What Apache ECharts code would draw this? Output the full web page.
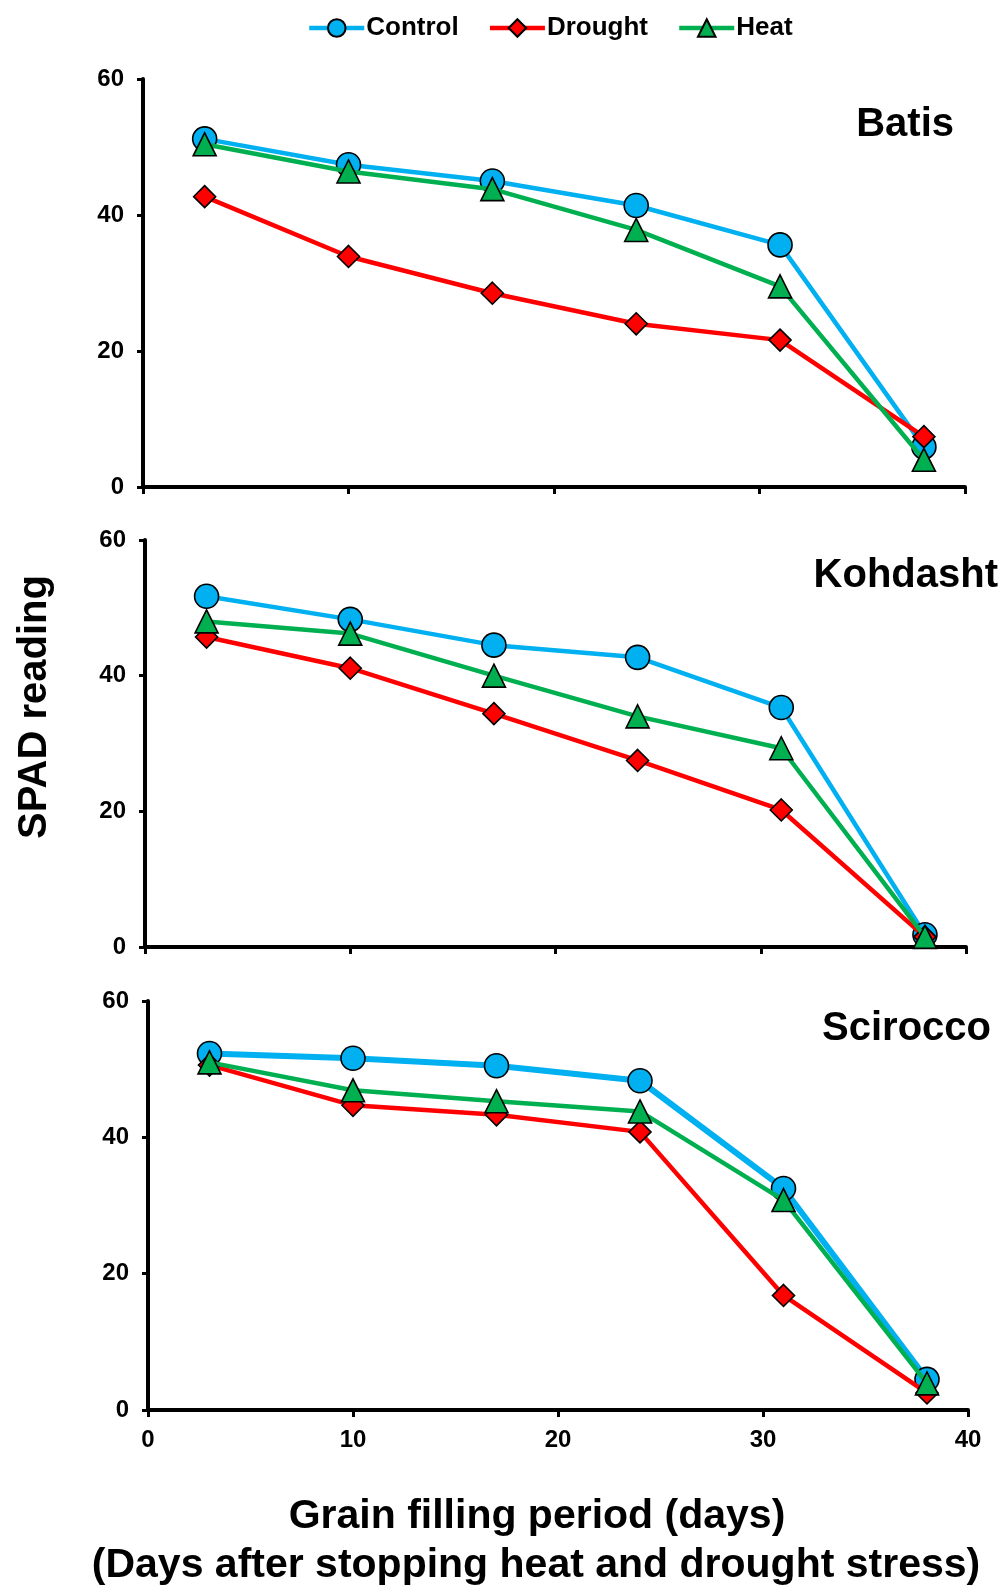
<!DOCTYPE html>
<html>
<head>
<meta charset="utf-8">
<script src="https://cdn.jsdelivr.net/npm/echarts@6/dist/echarts.min.js"></script>
<style>
  html, body { margin: 0; padding: 0; background: #fff; }
  #chart { width: 1005px; height: 1585px; }
</style>
</head>
<body>
<div id="chart"></div>
<script>
const days = [3, 10, 17, 24, 31, 38]
const xTicks = [0, 10, 20, 30, 40]
const yTicks = [0, 20, 40, 60]
const treatments = ['Control', 'Drought', 'Heat']
const cultivars = ['Batis', 'Kohdasht', 'Scirocco']

const batisControl = [51.2, 47.4, 45.0, 41.4, 35.6, 5.9]
const batisDrought = [42.7, 33.9, 28.5, 24.0, 21.6, 7.4]
const batisHeat = [50.4, 46.4, 43.8, 37.8, 29.5, 4.0]

const kohdashtControl = [51.7, 48.3, 44.5, 42.7, 35.3, 1.8]
const kohdashtDrought = [45.7, 41.1, 34.4, 27.5, 20.2, 1.5]
const kohdashtHeat = [48.0, 46.2, 40.0, 34.0, 29.3, 1.5]

const sciroccoControl = [52.3, 51.6, 50.5, 48.3, 32.5, 4.5]
const sciroccoDrought = [50.6, 44.7, 43.3, 40.8, 16.8, 2.5]
const sciroccoHeat = [51.0, 46.9, 45.3, 43.8, 30.8, 3.9]

const panelValues = [
  [batisControl, batisDrought, batisHeat],
  [kohdashtControl, kohdashtDrought, kohdashtHeat],
  [sciroccoControl, sciroccoDrought, sciroccoHeat]
]

// panel boxes in px
const grids = [
  { left: 143, top: 79, width: 822, height: 408 },
  { left: 145, top: 540, width: 821, height: 407 },
  { left: 148, top: 1001, width: 820, height: 409 }
]
const labelPos = [
  { x: 954, y: 125 },
  { x: 998, y: 576 },
  { x: 991, y: 1029 }
]

const seriesStyle = {
  Control: { color: '#00B0F0', symbol: 'circle', size: 24 },
  Drought: { color: '#FF0000', symbol: 'diamond', size: 22 },
  Heat: { color: '#00B050', symbol: 'triangle', size: 23 }
}

const tickFont = { color: '#000', fontSize: 24, fontWeight: 'bold', fontFamily: 'Liberation Sans, Arial, sans-serif' }

const xAxes = grids.map((g, i) => ({
  type: 'value',
  gridIndex: i,
  min: xTicks[0],
  max: xTicks[xTicks.length - 1],
  interval: 10,
  axisLine: { show: true, onZero: false, lineStyle: { color: '#000', width: 4 } },
  axisTick: { show: true, length: 7, lineStyle: { color: '#000', width: 3 } },
  axisLabel: { show: i === 2, margin: 18, ...tickFont },
  splitLine: { show: false }
}))

const yAxes = grids.map((g, i) => ({
  type: 'value',
  gridIndex: i,
  min: yTicks[0],
  max: yTicks[yTicks.length - 1],
  interval: 20,
  axisLine: { show: true, lineStyle: { color: '#000', width: 4 } },
  axisTick: { show: true, length: 6, lineStyle: { color: '#000', width: 3 } },
  axisLabel: { margin: 19, ...tickFont },
  splitLine: { show: false }
}))

const series = []
panelValues.forEach((vals, p) => {
  treatments.forEach((name, t) => {
    const st = seriesStyle[name]
    series.push({
      name,
      type: 'line',
      xAxisIndex: p,
      yAxisIndex: p,
      data: days.map((d, k) => [d, vals[t][k]]),
      symbol: st.symbol,
      symbolSize: st.size,
      lineStyle: { color: st.color, width: (name === 'Control' && p === 2) ? 6 : 4.5 },
      itemStyle: { color: st.color, borderColor: '#000', borderWidth: 1.6 },
      emphasis: { disabled: true },
      z: 2 + t
    })
  })
})

const titleFont = 'bold 41px "Liberation Sans", Arial, sans-serif'

const chart = echarts.init(document.getElementById('chart'), null, { renderer: 'canvas' })
chart.setOption({
  animation: false,
  backgroundColor: '#fff',
  legend: {
    data: treatments,
    left: 302,
    top: 10,
    itemWidth: 55,
    itemHeight: 22,
    itemGap: 29,
    lineStyle: { width: 4.5 },
    textStyle: { color: '#000', fontSize: 26, fontWeight: 'bold', fontFamily: 'Liberation Sans, Arial, sans-serif', padding: [0, 0, 0, -3] }
  },
  grid: grids,
  xAxis: xAxes,
  yAxis: yAxes,
  series,
  graphic: [
    ...cultivars.map((c, i) => ({
      type: 'text',
      x: labelPos[i].x,
      y: labelPos[i].y,
      style: { text: c, font: 'bold 40px "Liberation Sans", Arial, sans-serif', fill: '#000', align: 'right', verticalAlign: 'middle' }
    })),
    {
      type: 'text',
      x: 35,
      y: 707,
      rotation: Math.PI / 2,
      style: { text: 'SPAD reading', font: 'bold 40px "Liberation Sans", Arial, sans-serif', fill: '#000', align: 'center', verticalAlign: 'middle' }
    },
    {
      type: 'text',
      x: 537,
      y: 1517,
      style: { text: 'Grain filling period (days)', font: titleFont, fill: '#000', align: 'center', verticalAlign: 'middle' }
    },
    {
      type: 'text',
      x: 536,
      y: 1566,
      style: { text: '(Days after stopping heat and drought stress)', font: titleFont, fill: '#000', align: 'center', verticalAlign: 'middle' }
    }
  ]
})
</script>
</body>
</html>
